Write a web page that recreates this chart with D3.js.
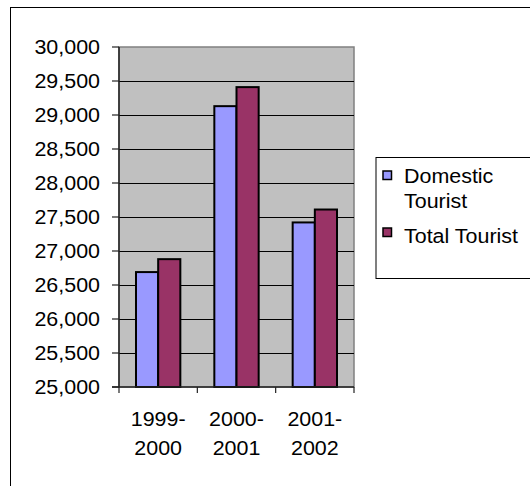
<!DOCTYPE html>
<html><head><meta charset="utf-8">
<script src="https://cdn.jsdelivr.net/npm/d3@7"></script>
<style>html,body{margin:0;padding:0;background:#fff;}svg{display:block;}</style>
</head><body>
<svg id="chart" width="530" height="486"></svg>
<script>
const categories = [["1999-","2000"],["2000-","2001"],["2001-","2002"]];
const seriesNames = ["Domestic Tourist","Total Tourist"];
const domestic = [26690, 29130, 27420];
const total = [26880, 29410, 27610];
const yTicks = [25000,25500,26000,26500,27000,27500,28000,28500,29000,29500,30000];
const colors = ["#9999FF","#993366"];

const svg = d3.select("#chart");
const font = "'Liberation Sans', Arial, sans-serif";
const fs = 19.5, sx = 1.1;

// outer border
svg.append("rect").attr("x",10.5).attr("y",7.5).attr("width",540).attr("height",500)
  .attr("fill","#fff").attr("stroke","#000").attr("stroke-width",1);

const L=119, R=354, T=47, B=387;
const catKeys = categories.map(c=>c.join(""));
const x = d3.scaleBand().domain(catKeys).range([L,R]).paddingInner(0.434).paddingOuter(0.217);
const xs = d3.scaleBand().domain(seriesNames).range([0,x.bandwidth()]);
const y = d3.scaleLinear().domain([25000,30000]).range([B,T]);

// plot area
svg.append("rect").attr("x",L).attr("y",T).attr("width",R-L).attr("height",B-T)
  .attr("fill","#C0C0C0").attr("stroke","#808080").attr("stroke-width",1.5);

// gridlines
svg.append("g").selectAll("line").data(yTicks.filter(v=>v>25000 && v<30000)).join("line")
  .attr("x1",L).attr("x2",R).attr("y1",d=>Math.round(y(d))+0.5).attr("y2",d=>Math.round(y(d))+0.5)
  .attr("stroke","#000").attr("stroke-width",1);

// bars
const data = categories.map((c,i)=>({key:catKeys[i], vals:[domestic[i], total[i]]}));
const g = svg.append("g").selectAll("g").data(data).join("g")
  .attr("transform",d=>`translate(${x(d.key)},0)`);
g.selectAll("rect").data(d=>d.vals.map((v,j)=>({v,name:seriesNames[j],j}))).join("rect")
  .attr("x",d=>xs(d.name)).attr("width",xs.bandwidth())
  .attr("y",d=>y(d.v)).attr("height",d=>y(25000)-y(d.v))
  .attr("fill",d=>colors[d.j]).attr("stroke","#000").attr("stroke-width",2);

// axes lines
svg.append("line").attr("x1",L).attr("x2",L).attr("y1",T).attr("y2",B).attr("stroke","#222").attr("stroke-width",1.5);
svg.append("line").attr("x1",L-7).attr("x2",R).attr("y1",B).attr("y2",B).attr("stroke","#222").attr("stroke-width",1.5);

// y ticks & labels
const fmt = d3.format(",");
svg.append("g").selectAll("line").data(yTicks).join("line")
  .attr("x1",L-7).attr("x2",L).attr("y1",d=>y(d)).attr("y2",d=>y(d)).attr("stroke","#222").attr("stroke-width",1.2);
svg.append("g").selectAll("text").data(yTicks).join("text")
  .attr("transform",d=>`translate(100,${y(d)+7}) scale(${sx},1)`)
  .attr("text-anchor","end").attr("font-family",font).attr("font-size",fs).attr("fill","#000")
  .text(d=>fmt(d));

// x ticks
const bounds = [L].concat(catKeys.map(k=>x(k)-x.step()*x.paddingInner()/2 + x.step()));
svg.append("g").selectAll("line").data(bounds).join("line")
  .attr("x1",d=>d).attr("x2",d=>d).attr("y1",B).attr("y2",B+6).attr("stroke","#222").attr("stroke-width",1.2);

// x labels
const xl = svg.append("g").selectAll("g").data(categories).join("g");
xl.each(function(c,i){
  const cx = x(catKeys[i]) + x.bandwidth()/2;
  c.forEach((line,k)=>{
    d3.select(this).append("text")
      .attr("transform",`translate(${cx},${426 + k*29}) scale(${sx},1)`)
      .attr("text-anchor","middle").attr("font-family",font).attr("font-size",fs).attr("fill","#000")
      .text(line);
  });
});

// legend
svg.append("rect").attr("x",376).attr("y",157.5).attr("width",170).attr("height",121)
  .attr("fill","#fff").attr("stroke","#000").attr("stroke-width",1);
const legendLines = [["Domestic","Tourist"],["Total Tourist"]];
const swY = [171, 228];
const txY = [182.5, 242.5];
legendLines.forEach((lines,i)=>{
  svg.append("rect").attr("x",383).attr("y",swY[i]).attr("width",8.5).attr("height",8.5)
    .attr("fill",colors[i]).attr("stroke","#000").attr("stroke-width",1.5);
  lines.forEach((t,k)=>{
    svg.append("text").attr("transform",`translate(404,${txY[i]+k*25}) scale(${sx},1)`)
      .attr("font-family",font).attr("font-size",fs).attr("fill","#000").text(t);
  });
});
</script>
</body></html>
